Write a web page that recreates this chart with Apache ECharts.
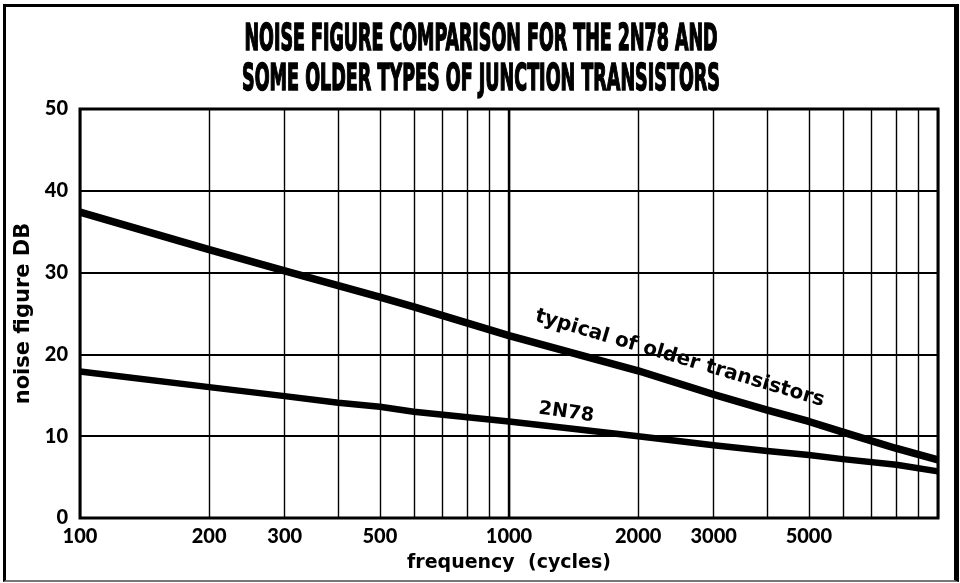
<!DOCTYPE html>
<html>
<head>
<meta charset="utf-8">
<title>Noise figure comparison</title>
<script src="https://cdn.jsdelivr.net/npm/echarts@6/dist/echarts.min.js"></script>
<style>
  html, body { margin: 0; padding: 0; background: #fff; }
  #wrap { position: relative; width: 960px; height: 583px; }
  #chart { position: absolute; left: 0; top: 0; width: 960px; height: 583px; }
  #frame {
    position: absolute; left: 3px; top: 4px; width: 948px; height: 573px;
    border-left: 3px solid #000; border-top: 3px solid #000;
    border-right: 5px solid #000; border-bottom: 2px solid #777;
    pointer-events: none;
  }
</style>
</head>
<body>
<div id="wrap">
  <div id="chart"></div>
  <div id="frame"></div>
</div>
<script>
// Frequency (cycles) at which each curve was read
const freq = [100, 200, 300, 400, 500, 600, 1000, 2000, 3000, 4000, 5000, 6000, 8000, 10000];
// Noise figure (dB) of typical older junction transistors
const olderTypes = [37.4, 32.8, 30.2, 28.4, 27.0, 25.8, 22.3, 18.0, 15.1, 13.2, 11.8, 10.5, 8.5, 7.1];
// Noise figure (dB) of the 2N78
const type2N78 = [17.9, 16.0, 14.9, 14.1, 13.6, 13.0, 11.8, 10.0, 8.9, 8.2, 7.7, 7.2, 6.5, 5.7];

// Log-paper rulings and the printed frequency labels
const gridFreqs = [100, 200, 300, 400, 500, 600, 700, 800, 900,
                   1000, 2000, 3000, 4000, 5000, 6000, 7000, 8000, 9000, 10000];
const labelFreqs = [100, 200, 300, 500, 1000, 2000, 3000, 5000];

const titleLines = ['NOISE FIGURE COMPARISON FOR THE 2N78 AND',
                    'SOME OLDER TYPES OF JUNCTION TRANSISTORS'];

const pairs = (xs, ys) => xs.map((x, i) => [x, ys[i]]);

// Condensed poster-style heading: measure, then squeeze horizontally
const titleFont = 'bold 37px "Liberation Sans Narrow", "DejaVu Sans Condensed", sans-serif';
const ctx = document.createElement('canvas').getContext('2d');
ctx.font = titleFont;
const titleWidths = [473, 478];
const titleY = [40, 80];

const labelFont = 'Lato, "DejaVu Sans", sans-serif';
const nameFont = '"DejaVu Sans", sans-serif';

const chart = echarts.init(document.getElementById('chart'), null, { renderer: 'canvas' });

chart.setOption({
  backgroundColor: '#fff',
  animation: false,
  graphic: titleLines.map((t, i) => ({
    type: 'text',
    x: 481,
    y: titleY[i],
    scaleX: titleWidths[i] / ctx.measureText(t).width,
    style: {
      text: t,
      font: titleFont,
      fill: '#000',
      stroke: '#000',
      lineWidth: 1.6,
      textAlign: 'center',
      textVerticalAlign: 'middle'
    }
  })),
  grid: {
    left: 80, right: 22, top: 109, bottom: 65,
    show: true, borderColor: '#000', borderWidth: 3, backgroundColor: 'transparent'
  },
  xAxis: {
    type: 'log',
    logBase: 10,
    min: 100,
    max: 10000,
    name: 'frequency  (cycles)',
    nameLocation: 'middle',
    nameGap: 36,
    nameTextStyle: { fontFamily: nameFont, fontWeight: 'bold', fontSize: 19, color: '#000' },
    axisLine: { show: false },
    axisTick: { show: false, customValues: gridFreqs },
    splitLine: { show: true, lineStyle: { color: '#000', width: 1.4, type: 'solid' } },
    minorSplitLine: { show: false },
    axisLabel: {
      customValues: labelFreqs,
      interval: 0,
      hideOverlap: false,
      formatter: v => String(Math.round(v)),
      margin: 9,
      fontFamily: labelFont,
      fontWeight: 900,
      fontSize: 20,
      color: '#000',
      showMinLabel: true
    }
  },
  yAxis: {
    type: 'value',
    min: 0,
    max: 50,
    interval: 10,
    name: 'noise figure DB',
    nameLocation: 'middle',
    nameGap: 37,
    nameRotate: 90,
    nameTextStyle: { fontFamily: nameFont, fontWeight: 'bold', fontSize: 21, color: '#000' },
    axisLine: { show: false },
    axisTick: { show: false },
    splitLine: { show: true, lineStyle: { color: '#000', width: 2 } },
    axisLabel: {
      margin: 12,
      fontFamily: labelFont,
      fontWeight: 900,
      fontSize: 20,
      color: '#000'
    }
  },
  series: [
    {
      name: 'typical of older transistors',
      type: 'line',
      data: pairs(freq, olderTypes),
      showSymbol: false,
      smooth: false,
      lineStyle: { color: '#000', width: 7.5, join: 'round', cap: 'butt' },
      z: 5,
      markLine: {
        silent: true,
        symbol: 'none',
        label: { show: false },
        lineStyle: { color: '#000', width: 2.4, type: 'solid' },
        data: [{ xAxis: 1000 }]
      },
      markPoint: {
        silent: true,
        symbol: 'circle',
        symbolSize: 0,
        data: [{ coord: [2500, 19.5] }],
        label: {
          show: true,
          position: 'inside',
          formatter: 'typical of older transistors',
          rotate: -16.5,
          fontFamily: nameFont,
          fontWeight: 'bold',
          fontSize: 20,
          color: '#000'
        }
      }
    },
    {
      name: '2N78',
      type: 'line',
      data: pairs(freq, type2N78),
      showSymbol: false,
      smooth: false,
      lineStyle: { color: '#000', width: 6.5, join: 'round', cap: 'butt' },
      z: 5,
      markPoint: {
        silent: true,
        symbol: 'circle',
        symbolSize: 0,
        data: [{ coord: [1360, 12.9] }],
        label: {
          show: true,
          position: 'inside',
          formatter: '2N78',
          rotate: -8,
          fontFamily: nameFont,
          fontWeight: 'bold',
          fontSize: 19,
          color: '#000'
        }
      }
    }
  ]
});
</script>
</body>
</html>
